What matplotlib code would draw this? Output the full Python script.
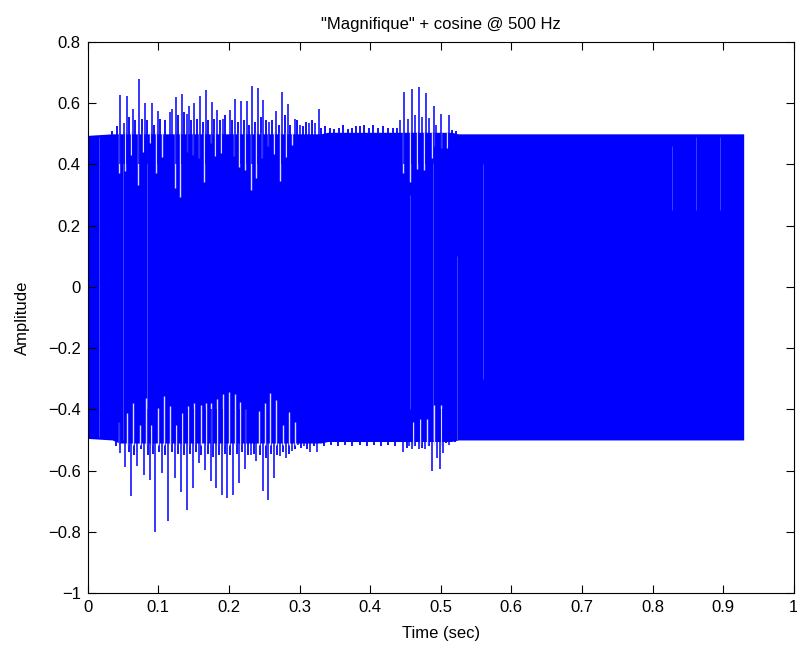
import matplotlib
matplotlib.use("Agg")
import matplotlib.pyplot as plt
import numpy as np

plt.rcParams['font.family'] = ['Liberation Sans', 'DejaVu Sans']

# envelope of the steady 500 Hz cosine band (time, upper, lower)
env_t = [0.0, 0.035, 0.045, 0.330, 0.340, 0.440, 0.515, 0.525, 0.929]
env_hi = [0.495, 0.50, 0.50, 0.50, 0.505, 0.505, 0.505, 0.50, 0.50]
env_lo = [-0.495, -0.50, -0.51, -0.51, -0.505, -0.505, -0.505, -0.50, -0.50]

# voiced pitch pulses poking out above the band
up_t = [0.046, 0.051, 0.055, 0.064, 0.073, 0.081, 0.091, 0.099, 0.116, 0.119, 0.125, 0.133,
        0.141, 0.144, 0.151, 0.159, 0.167, 0.176, 0.183, 0.191, 0.201, 0.209, 0.217, 0.225,
        0.233, 0.241, 0.249, 0.257, 0.267, 0.275, 0.283, 0.293, 0.300, 0.313, 0.322, 0.327,
        0.443, 0.448, 0.453, 0.459, 0.463, 0.469, 0.473, 0.479, 0.483, 0.490, 0.493, 0.501, 0.511]
up_v = [0.627, 0.536, 0.624, 0.58, 0.68, 0.60, 0.60, 0.575, 0.57, 0.58, 0.62, 0.63,
        0.565, 0.59, 0.60, 0.624, 0.644, 0.604, 0.578, 0.55, 0.578, 0.615, 0.606, 0.606,
        0.657, 0.65, 0.61, 0.54, 0.573, 0.636, 0.598, 0.55, 0.53, 0.535, 0.535, 0.58,
        0.546, 0.636, 0.55, 0.647, 0.56, 0.654, 0.555, 0.632, 0.553, 0.59, 0.53, 0.565, 0.56]

# smaller ripples on the top edge
rip_t = [0.034, 0.041, 0.059, 0.067, 0.077, 0.084, 0.094, 0.102,
         0.110, 0.128, 0.137, 0.147, 0.155, 0.163, 0.171, 0.179, 0.187, 0.195, 0.205, 0.213,
         0.221, 0.229, 0.237, 0.245, 0.253, 0.261, 0.271, 0.279, 0.287, 0.297, 0.305, 0.309,
         0.317, 0.331, 0.336, 0.343, 0.349, 0.356, 0.362, 0.368, 0.374, 0.380, 0.386, 0.392,
         0.398, 0.404, 0.411, 0.418, 0.425, 0.432, 0.438, 0.516, 0.522]
rip_v = [0.51, 0.525, 0.555, 0.545, 0.55, 0.545, 0.53, 0.55,
         0.545, 0.56, 0.57, 0.545, 0.55, 0.54, 0.545, 0.55, 0.545, 0.56, 0.545, 0.54,
         0.545, 0.53, 0.54, 0.555, 0.545, 0.545, 0.53, 0.56, 0.53, 0.545, 0.525, 0.54,
         0.545, 0.52, 0.525, 0.52, 0.515, 0.52, 0.53, 0.515, 0.52, 0.525, 0.525, 0.53,
         0.52, 0.53, 0.52, 0.525, 0.52, 0.52, 0.52, 0.512, 0.508]

# pulses below the band
dn_t = [0.046, 0.053, 0.062, 0.070, 0.080, 0.088, 0.096, 0.105, 0.114, 0.123, 0.132, 0.140,
        0.149, 0.157, 0.166, 0.174, 0.182, 0.190, 0.198, 0.206, 0.215, 0.223, 0.231, 0.239,
        0.248, 0.256, 0.264, 0.272, 0.281, 0.289, 0.298, 0.306, 0.315, 0.325,
        0.446, 0.455, 0.460, 0.469, 0.478, 0.488, 0.494, 0.499, 0.503, 0.512]
dn_v = [-0.544, -0.587, -0.683, -0.585, -0.614, -0.631, -0.80, -0.607, -0.764, -0.623, -0.669, -0.729,
        -0.658, -0.576, -0.598, -0.633, -0.658, -0.68, -0.69, -0.68, -0.641, -0.595, -0.55, -0.57,
        -0.667, -0.696, -0.625, -0.554, -0.56, -0.535, -0.515, -0.52, -0.54, -0.54,
        -0.538, -0.52, -0.53, -0.53, -0.53, -0.603, -0.56, -0.596, -0.543, -0.517]

# smaller ripples on the bottom edge
rip_lo_t = [0.040, 0.058, 0.066, 0.076, 0.085, 0.093, 0.101, 0.110, 0.119,
            0.128, 0.136, 0.145, 0.153, 0.161, 0.170, 0.178, 0.186, 0.194, 0.202, 0.211, 0.219,
            0.227, 0.235, 0.244, 0.252, 0.260, 0.268, 0.277, 0.285, 0.294, 0.302, 0.311, 0.320,
            0.335, 0.345, 0.355, 0.365, 0.375, 0.385, 0.395, 0.405, 0.415, 0.425, 0.435, 0.452,
            0.464, 0.474, 0.484, 0.508, 0.520]
rip_lo_v = [-0.52, -0.54, -0.55, -0.53, -0.55, -0.545, -0.54, -0.55, -0.54,
            -0.545, -0.55, -0.545, -0.54, -0.55, -0.545, -0.555, -0.55, -0.545, -0.55, -0.545, -0.54,
            -0.55, -0.545, -0.55, -0.56, -0.545, -0.55, -0.54, -0.545, -0.53, -0.525, -0.53, -0.52,
            -0.52, -0.515, -0.52, -0.515, -0.52, -0.515, -0.52, -0.515, -0.52, -0.515, -0.52, -0.525,
            -0.52, -0.525, -0.52, -0.51, -0.508]

# light gaps cut into the top of the band
gap_hi_t = [0.045, 0.053, 0.062, 0.071, 0.079, 0.088, 0.097, 0.105, 0.123, 0.131, 0.140, 0.149,
            0.157, 0.165, 0.174, 0.181, 0.189, 0.207, 0.215, 0.223, 0.231, 0.239, 0.247, 0.256,
            0.264, 0.273, 0.281, 0.289, 0.447, 0.457, 0.466, 0.476, 0.487, 0.491, 0.501, 0.509]
gap_hi_v = [0.372, 0.377, 0.43, 0.333, 0.44, 0.47, 0.372, 0.425, 0.322, 0.293, 0.44, 0.43,
            0.42, 0.344, 0.47, 0.426, 0.436, 0.426, 0.393, 0.382, 0.315, 0.355, 0.42, 0.46,
            0.435, 0.347, 0.425, 0.465, 0.372, 0.344, 0.386, 0.383, 0.42, 0.46, 0.455, 0.455]

# light gaps cut into the bottom of the band
gap_lo_t = [0.045, 0.056, 0.064, 0.074, 0.082, 0.090, 0.099, 0.108, 0.116, 0.125, 0.134, 0.142,
            0.151, 0.160, 0.168, 0.175, 0.183, 0.192, 0.200, 0.208, 0.216, 0.223, 0.242, 0.251,
            0.258, 0.266, 0.276, 0.285, 0.293, 0.461, 0.470, 0.480, 0.490, 0.501]
gap_lo_v = [-0.44, -0.413, -0.38, -0.45, -0.364, -0.45, -0.397, -0.356, -0.389, -0.45, -0.413, -0.39,
            -0.38, -0.386, -0.38, -0.38, -0.367, -0.35, -0.342, -0.35, -0.375, -0.40, -0.406, -0.38,
            -0.348, -0.37, -0.45, -0.41, -0.44, -0.44, -0.43, -0.43, -0.386, -0.386]

# faint aliasing stripes across the band
stripe_t = [0.016, 0.050, 0.084, 0.456, 0.489, 0.523, 0.560, 0.827, 0.861, 0.895]
stripe_lo = [-0.49, -0.50, -0.50, -0.40, -0.50, -0.50, -0.30, 0.25, 0.25, 0.25]
stripe_hi = [0.49, 0.50, 0.50, 0.30, 0.50, 0.10, 0.40, 0.46, 0.49, 0.49]

fig = plt.figure(figsize=(7.97, 6.46), dpi=100)
ax = fig.add_axes([0.110, 0.082, 0.886, 0.853])

blue = '#0000ff'
ax.fill_between(env_t, env_lo, env_hi, color=blue, linewidth=0)
ax.vlines(stripe_t, stripe_lo, stripe_hi, color='#4a4aff', linewidth=0.6)
ax.vlines(rip_t, 0.40, rip_v, color=blue, linewidth=1.3)
ax.vlines(rip_lo_t, rip_lo_v, -0.40, color=blue, linewidth=1.3)
ax.vlines(gap_hi_t, gap_hi_v, 0.505, color='#dcdcff', linewidth=1.0)
ax.vlines(gap_lo_t, -0.515, gap_lo_v, color='#dcdcff', linewidth=1.0)
ax.vlines(up_t, 0.40, up_v, color=blue, linewidth=1.1)
ax.vlines(dn_t, dn_v, -0.40, color=blue, linewidth=1.1)

ax.set_xlim(0, 1)
ax.set_ylim(-1, 0.8)
ax.set_xticks(np.arange(0, 1.01, 0.1))
ax.set_xticklabels(['0', '0.1', '0.2', '0.3', '0.4', '0.5', '0.6', '0.7', '0.8', '0.9', '1'])
ax.set_yticks(np.arange(-1, 0.81, 0.2))
ax.set_yticklabels(['\u22121', '\u22120.8', '\u22120.6', '\u22120.4', '\u22120.2', '0',
                    '0.2', '0.4', '0.6', '0.8'])
ax.tick_params(direction='in', top=True, right=True, length=6, width=0.8, labelsize=12, pad=5)
for s in ax.spines.values():
    s.set_linewidth(0.8)

ax.set_title('"Magnifique" + cosine @ 500 Hz', fontsize=12, pad=9)
ax.set_xlabel('Time (sec)', fontsize=12, labelpad=8)
ax.set_ylabel('Amplitude', fontsize=12, labelpad=13)

fig.savefig('out.png', dpi=100)
